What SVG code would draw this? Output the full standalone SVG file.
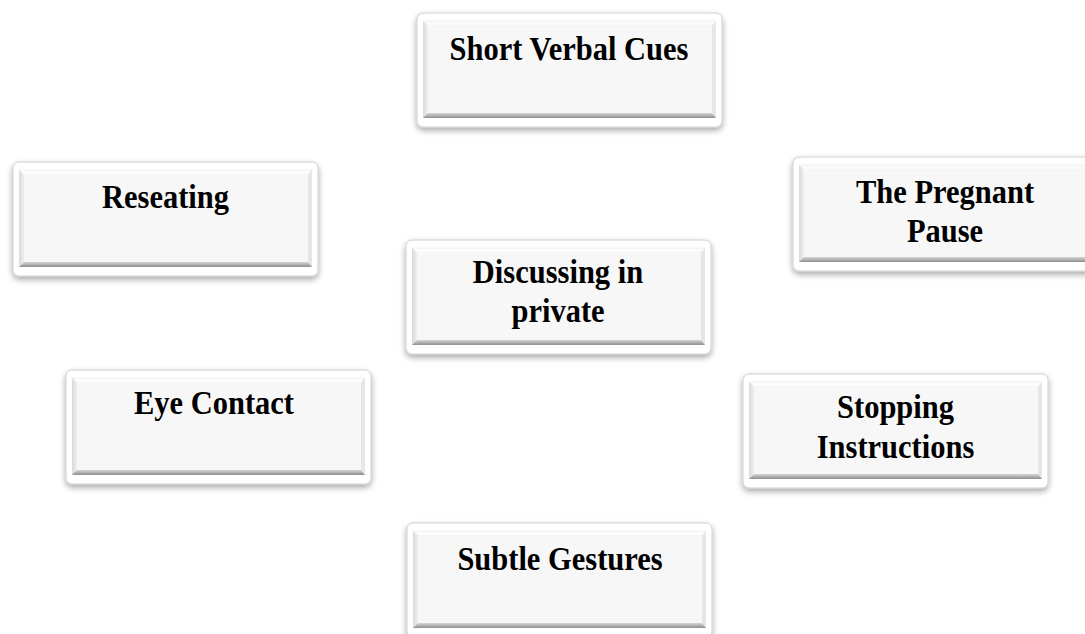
<svg xmlns="http://www.w3.org/2000/svg" xmlns:xlink="http://www.w3.org/1999/xlink" width="1085" height="634" viewBox="0 0 1085 634">
<style>
.lbl{font-family:"Liberation Serif","Times New Roman",serif;font-weight:bold;font-size:33px;fill:#000;text-anchor:middle}
</style>
<defs>
<filter id="sh" x="-10%" y="-20%" width="120%" height="150%">
<feGaussianBlur in="SourceAlpha" stdDeviation="3"/>
<feOffset dx="0" dy="3" result="b"/>
<feComponentTransfer><feFuncA type="linear" slope="0.35"/></feComponentTransfer>
<feMerge><feMergeNode/><feMergeNode in="SourceGraphic"/></feMerge>
</filter>
<linearGradient id="gb" x1="0" y1="0" x2="0" y2="1">
<stop offset="0" stop-color="#d6d6d6"/>
<stop offset="1" stop-color="#8e8e8e"/>
</linearGradient>
<linearGradient id="gl" x1="0" y1="0" x2="1" y2="0">
<stop offset="0" stop-color="#d9d9d9"/>
<stop offset="1" stop-color="#efefef"/>
</linearGradient>
<g id="box">
<rect x="0" y="0" width="305" height="114" rx="6" fill="#fff" stroke="#cfcfcf" stroke-width="1" filter="url(#sh)"/>
<polygon points="6,8 299,8 295,13 11,13" fill="#fcfcfc" stroke="#e2e2e2" stroke-width="0.5"/>
<polygon points="6,8 11,13 11,100 6,105" fill="url(#gl)"/>
<polygon points="299,8 295,13 295,100 299,105" fill="#e6e6e6"/>
<polygon points="6,105 11,100 295,100 299,105" fill="url(#gb)"/>
<rect x="11" y="13" width="284" height="87" fill="#f7f7f7"/>
</g>
</defs>
<rect width="1085" height="634" fill="#fff"/>
<g id="connectors"></g>
<g id="node-short-verbal-cues" transform="translate(417,13)">
<use xlink:href="#box"/>
<g transform="translate(152,0) scale(0.924,1)"><text class="lbl" x="0" y="47">Short Verbal Cues</text></g>
</g>
<g id="node-reseating" transform="translate(13,162)">
<use xlink:href="#box"/>
<g transform="translate(152.5,0) scale(0.924,1)"><text class="lbl" x="0" y="46">Reseating</text></g>
</g>
<g id="node-pregnant-pause" transform="translate(793,157)">
<use xlink:href="#box"/>
<g transform="translate(152,0) scale(0.924,1)"><text class="lbl" x="0" y="46">The Pregnant</text>
<text class="lbl" x="0" y="85">Pause</text></g>
</g>
<g id="node-discussing" transform="translate(406,240)">
<use xlink:href="#box"/>
<g transform="translate(152,0) scale(0.924,1)"><text class="lbl" x="0" y="43">Discussing in</text>
<text class="lbl" x="0" y="82">private</text></g>
</g>
<g id="node-eye-contact" transform="translate(66,370)">
<use xlink:href="#box"/>
<g transform="translate(148,0) scale(0.924,1)"><text class="lbl" x="0" y="44">Eye Contact</text></g>
</g>
<g id="node-stopping" transform="translate(743,374)">
<use xlink:href="#box"/>
<g transform="translate(152.5,0) scale(0.924,1)"><text class="lbl" x="0" y="44">Stopping</text>
<text class="lbl" x="0" y="84">Instructions</text></g>
</g>
<g id="node-subtle-gestures" transform="translate(407,523)">
<use xlink:href="#box"/>
<g transform="translate(153,0) scale(0.924,1)"><text class="lbl" x="0" y="47">Subtle Gestures</text></g>
</g>
</svg>
